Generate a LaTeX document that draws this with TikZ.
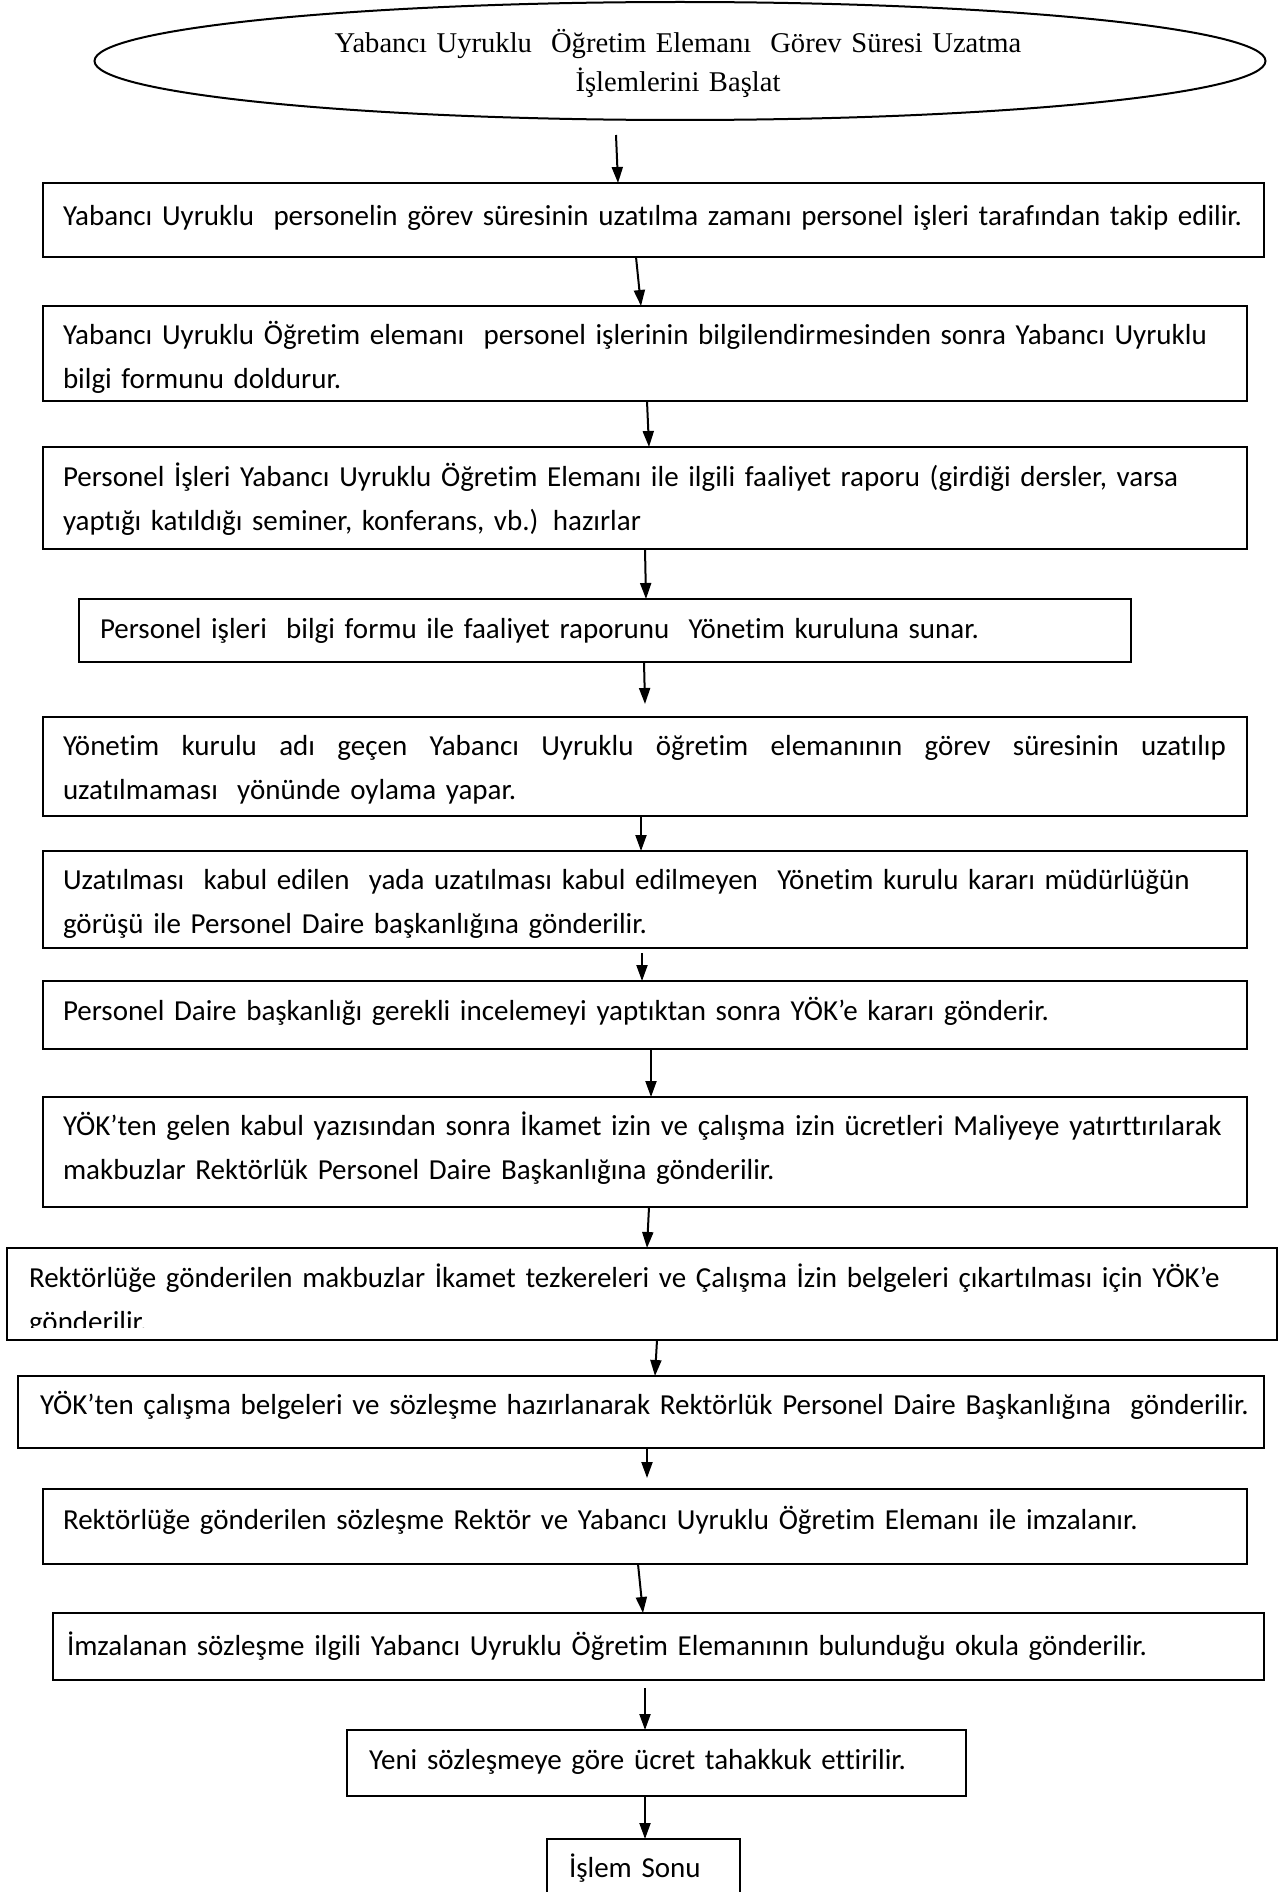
\documentclass[tikz,border=0pt]{standalone}
\usepackage{fontspec}
\setmainfont{Carlito}[Ligatures=NoCommon]
\newfontfamily\ovalfont{Liberation Serif}
\usetikzlibrary{shapes.geometric,arrows.meta,calc}

\tikzset{
  stepbox/.style={draw=black, line width=2pt, inner sep=0pt, outer sep=0pt, anchor=north west},
  oval/.style={ellipse, draw=black, line width=2pt, inner sep=0pt, outer sep=0pt},
  ovaltext/.style={anchor=base, inner sep=0pt, outer sep=0pt, text width=1000pt, align=center,
    font=\ovalfont\fontsize{28.6}{39}\selectfont},
  steptext/.style={anchor=base west, inner sep=0pt, outer sep=0pt, text width=1260pt, align=left,
    font=\fontsize{29}{44}\selectfont},
  flow/.style={line width=2pt, -{Triangle[length=16pt,width=11pt]}},
}

\begin{document}
\begin{tikzpicture}[x=1pt,y=-1pt]
\useasboundingbox (0,0) rectangle (1280,1892);
\clip (0,0) rectangle (1280,1892);

% start oval
\node[oval, minimum width=1171pt, minimum height=118pt] (E) at (680,61) {};
\node[ovaltext] (Et) at (678,53) {Yabancı Uyruklu~ Öğretim Elemanı~ Görev Süresi Uzatma\\İşlemlerini Başlat};

% process boxes
\node[stepbox, minimum width=1221pt, minimum height=74pt]  (b1)  at (43,183)  {};
\node[stepbox, minimum width=1204pt, minimum height=95pt]  (b2)  at (43,306)  {};
\node[stepbox, minimum width=1204pt, minimum height=102pt] (b3)  at (43,447)  {};
\node[stepbox, minimum width=1052pt, minimum height=63pt]  (b4)  at (79,599)  {};
\node[stepbox, minimum width=1204pt, minimum height=99pt]  (b5)  at (43,717)  {};
\node[stepbox, minimum width=1204pt, minimum height=97pt]  (b6)  at (43,851)  {};
\node[stepbox, minimum width=1204pt, minimum height=68pt]  (b7)  at (43,981)  {};
\node[stepbox, minimum width=1204pt, minimum height=110pt] (b8)  at (43,1097) {};
\node[stepbox, minimum width=1270pt, minimum height=92pt]  (b9)  at (7,1248)  {};
\node[stepbox, minimum width=1246pt, minimum height=72pt]  (b10) at (18,1376) {};
\node[stepbox, minimum width=1204pt, minimum height=75pt]  (b11) at (43,1489) {};
\node[stepbox, minimum width=1211pt, minimum height=67pt]  (b12) at (53,1613) {};
\node[stepbox, minimum width=619pt,  minimum height=66pt]  (b13) at (347,1730) {};
\node[stepbox, minimum width=193pt,  minimum height=80pt]  (b14) at (547,1839) {};

% box texts
\node[steptext] (t1) at (63,225) {Yabancı Uyruklu~ personelin görev süresinin uzatılma zamanı personel işleri tarafından takip edilir.};
\node[steptext] (t2) at (63,344) {Yabancı Uyruklu Öğretim elemanı~ personel işlerinin bilgilendirmesinden sonra Yabancı Uyruklu\\bilgi formunu doldurur.};
\node[steptext] (t3) at (63,486) {Personel İşleri Yabancı Uyruklu Öğretim Elemanı ile ilgili faaliyet raporu (girdiği dersler, varsa\\yaptığı katıldığı seminer, konferans, vb.) hazırlar};
\node[steptext] (t4) at (100,638) {Personel işleri~ bilgi formu ile faaliyet raporunu~ Yönetim kuruluna sunar.};
\node[steptext] (t5) at (63,755) {\hbox to 1163pt{Yönetim\hfill kurulu\hfill adı\hfill geçen\hfill Yabancı\hfill Uyruklu\hfill öğretim\hfill elemanının\hfill görev\hfill süresinin\hfill uzatılıp}\\uzatılmaması~ yönünde oylama yapar.};
\node[steptext] (t6) at (63,889) {Uzatılması~ kabul edilen~ yada uzatılması kabul edilmeyen~ Yönetim kurulu kararı müdürlüğün\\görüşü ile Personel Daire başkanlığına gönderilir.};
\node[steptext] (t7) at (63,1020) {Personel Daire başkanlığı gerekli incelemeyi yaptıktan sonra YÖK’e kararı gönderir.};
\node[steptext] (t8) at (63,1135) {YÖK’ten gelen kabul yazısından sonra İkamet izin ve çalışma izin ücretleri Maliyeye yatırttırılarak\\makbuzlar Rektörlük Personel Daire Başkanlığına gönderilir.};
\begin{scope}
  \clip (7,1248) rectangle (1277,1327);
  \node[steptext] (t9) at (29,1287) {Rektörlüğe gönderilen makbuzlar İkamet tezkereleri ve Çalışma İzin belgeleri çıkartılması için YÖK’e\\gönderilir.};
\end{scope}
\node[steptext] (t10) at (40,1414) {YÖK’ten çalışma belgeleri ve sözleşme hazırlanarak Rektörlük Personel Daire Başkanlığına~ gönderilir.};
\node[steptext] (t11) at (63,1529) {Rektörlüğe gönderilen sözleşme Rektör ve Yabancı Uyruklu Öğretim Elemanı ile imzalanır.};
\node[steptext] (t12) at (67,1655) {İmzalanan sözleşme ilgili Yabancı Uyruklu Öğretim Elemanının bulunduğu okula gönderilir.};
\node[steptext] (t13) at (369,1769) {Yeni sözleşmeye göre ücret tahakkuk ettirilir.};
\node[steptext] (t14) at (569,1877) {İşlem Sonu};

% connectors
\draw[flow] ($(E.south -| 616,0)+(0,15)$) -- (b1.north -| 618,0);
\draw[flow] (b1.south -| 636,0) -- (b2.north -| 641,0);
\draw[flow] (b2.south -| 647,0) -- (b3.north -| 649,0);
\draw[flow] (b3.south -| 645,0) -- (b4.north -| 646,0);
\draw[flow] (b4.south -| 644,0) -- ($(b5.north -| 645,0)+(0,-13)$);
\draw[flow] (b5.south -| 641,0) -- (b6.north -| 641,0);
\draw[flow] ($(b6.south -| 642,0)+(0,5)$) -- (b7.north -| 642,0);
\draw[flow] (b7.south -| 651,0) -- (b8.north -| 651,0);
\draw[flow] (b8.south -| 649,0) -- (b9.north -| 647,0);
\draw[flow] (b9.south -| 657,0) -- (b10.north -| 655,0);
\draw[flow] (b10.south -| 647,0) -- ($(b11.north -| 647,0)+(0,-11)$);
\draw[flow] (b11.south -| 638,0) -- (b12.north -| 643,0);
\draw[flow] ($(b12.south -| 645,0)+(0,8)$) -- (b13.north -| 645,0);
\draw[flow] (b13.south -| 645,0) -- (b14.north -| 645,0);
\end{tikzpicture}
\end{document}
